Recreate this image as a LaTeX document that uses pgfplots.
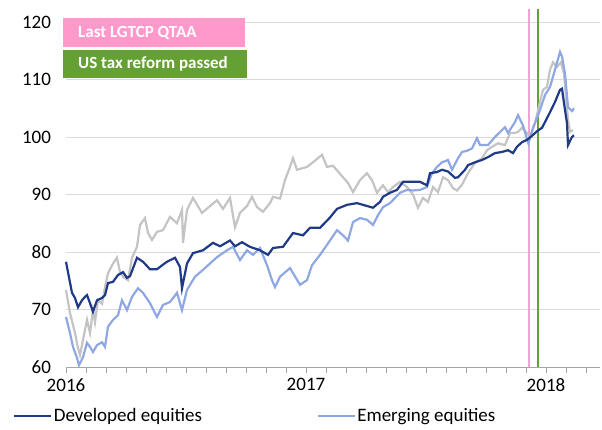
\documentclass[border=0pt]{standalone}
\usepackage{fontspec}
\setmainfont{Carlito}
\usepackage{pgfplots}
\pgfplotsset{compat=1.18}
\definecolor{navy}{HTML}{1F3A86}
\definecolor{lblue}{HTML}{8FA8E4}
\definecolor{lgrey}{HTML}{C4C4C4}
\definecolor{pinkc}{HTML}{FF99CC}
\definecolor{pinkl}{HTML}{F2A2D6}
\definecolor{greenc}{HTML}{64A034}
\definecolor{gridc}{HTML}{DADADA}
\definecolor{axc}{HTML}{A6A6A6}
\begin{document}
\begin{tikzpicture}[x=1pt,y=1pt]
\path[use as bounding box] (-66,-63) rectangle (536,367);
\begin{axis}[
  scale only axis, width=534pt, height=345pt,
  xmin=0, xmax=26.7, ymin=60, ymax=120,
  clip=false,
  axis x line*=bottom, axis y line*=left,
  y axis line style={draw=none},
  x axis line style={color=axc, line width=0.8pt},
  xtick={0,12,24}, xticklabels={2016,2017,2018},
  minor xtick={1,2,3,4,5,6,7,8,9,10,11,13,14,15,16,17,18,19,20,21,22,23,25,26},
  tick align=outside, major tick length=6pt, minor tick length=6pt,
  x tick style={color=axc, line width=0.8pt},
  minor x tick style={color=axc, line width=0.8pt},
  ytick={60,70,80,90,100,110,120},
  y tick style={draw=none},
  ymajorgrids, grid style={color=gridc, line width=0.8pt},
  tick label style={font=\fontsize{19}{22}\selectfont, text=black},
  xticklabel style={yshift=-2pt},
  yticklabel style={xshift=-5.5pt},
  /pgf/number format/assume math mode=true,
  legend columns=2, reverse legend,
  legend style={at={(-0.0993,-0.142)}, anchor=west, draw=none, fill=none,
    font=\fontsize{19}{22}\selectfont, inner sep=0pt,
    nodes={inner xsep=1.5pt},
    /tikz/column 2/.style={column sep=113pt}},
  legend image code/.code={\draw[#1] (0pt,0pt) -- (37pt,0pt);},
]
\addplot[pinkl, line width=1.8pt, forget plot] coordinates {(23.15,60) (23.15,122.3)};
\addplot[greenc, line width=1.8pt, forget plot] coordinates {(23.6,60) (23.6,122.3)};
% grey series (legend entry not shown in reference)
\addplot[lgrey, line width=2.2pt, forget plot] coordinates {
(0.00,73.4) (0.20,69.4) (0.45,65.9) (0.60,63.3) (0.70,62.1) (0.85,64.7) (1.05,68.2) (1.20,65.9)
(1.35,69.9) (1.45,67.8) (1.60,71.6) (1.80,71.0) (1.95,73.9) (2.10,76.3) (2.35,78.0) (2.55,79.0)
(2.70,76.5) (2.85,75.7) (3.10,75.1) (3.30,79.0) (3.55,80.9) (3.70,84.7) (3.95,85.9) (4.10,83.3)
(4.30,82.1) (4.55,83.5) (4.85,83.8) (5.20,86.1) (5.55,85.0) (5.80,87.3) (5.85,81.6) (6.05,87.3)
(6.35,89.4) (6.80,86.8) (7.10,87.7) (7.55,89.0) (7.85,87.5) (8.20,89.4) (8.45,84.3) (8.70,86.8)
(9.05,88.0) (9.30,89.6) (9.55,87.8) (9.85,87.0) (10.20,88.5) (10.35,89.6) (10.70,89.3) (10.95,92.5)
(11.20,94.8) (11.35,96.3) (11.55,94.3) (12.05,94.8) (12.35,95.6) (12.80,96.9) (13.05,94.8) (13.35,95.0)
(13.70,93.6) (14.10,92.0) (14.35,90.4) (14.70,92.5) (15.05,93.7) (15.30,92.5) (15.55,90.3) (15.85,91.6)
(16.10,90.4) (16.35,91.3) (16.70,92.2) (17.05,91.3) (17.35,90.0) (17.60,87.7) (17.85,89.4) (18.10,88.7)
(18.35,91.3) (18.60,90.4) (18.85,93.0) (19.10,92.5) (19.35,91.1) (19.55,90.7) (19.80,91.7) (20.10,93.7)
(20.45,95.5) (20.80,96.3) (21.05,97.7) (21.30,98.3) (21.60,98.9) (21.95,98.6) (22.20,100.7) (22.45,100.7)
(22.60,100.9) (22.80,101.6) (23.05,100.7) (23.20,100.0) (23.45,102.4) (23.70,106.1) (23.85,108.2) (24.05,108.7)
(24.20,111.7) (24.35,113.0) (24.55,112.2) (24.75,113.0) (24.90,111.0) (25.10,103.0) (25.20,100.9) (25.35,101.2)
};
\addplot[lblue, line width=2.2pt] coordinates {
(0.00,68.7) (0.20,65.9) (0.35,63.5) (0.55,61.6) (0.65,60.3) (0.85,61.7) (1.05,64.2) (1.20,63.5)
(1.35,62.6) (1.55,63.8) (1.80,64.3) (1.95,63.5) (2.10,67.0) (2.35,68.2) (2.60,69.0) (2.80,71.6)
(3.05,69.9) (3.30,72.2) (3.60,73.7) (3.85,72.9) (4.20,71.1) (4.55,68.7) (4.85,70.8) (5.20,71.3)
(5.55,72.9) (5.80,69.9) (6.05,73.4) (6.45,75.7) (6.85,76.9) (7.20,78.0) (7.55,79.1) (8.05,80.3)
(8.35,80.9) (8.70,78.6) (9.05,80.3) (9.35,79.5) (9.70,80.7) (10.05,77.7) (10.30,75.1) (10.45,73.9)
(10.70,75.7) (11.20,77.2) (11.70,74.3) (12.05,75.1) (12.30,77.7) (12.70,79.5) (13.20,82.0) (13.55,83.8)
(13.85,82.9) (14.10,82.0) (14.35,85.2) (14.70,85.9) (15.05,85.6) (15.35,84.7) (15.60,86.4) (15.85,87.8)
(16.20,88.5) (16.45,89.4) (16.70,90.3) (17.05,90.8) (17.35,90.7) (17.70,90.8) (18.05,91.3) (18.30,93.7)
(18.55,94.8) (18.80,95.6) (19.10,96.0) (19.30,94.3) (19.60,96.3) (19.80,97.4) (20.05,97.6) (20.30,98.0)
(20.55,99.8) (20.70,98.6) (21.10,98.6) (21.45,100.0) (21.80,101.2) (21.95,101.7) (22.10,100.7) (22.45,102.6)
(22.60,103.8) (22.85,102.0) (23.02,100.0) (23.12,98.9) (23.35,101.6) (23.70,104.7) (23.95,107.3) (24.20,108.7)
(24.45,111.7) (24.70,114.8) (24.80,114.0) (24.95,111.0) (25.10,105.2) (25.30,104.5) (25.40,105.0)
};
\addlegendentry{Emerging equities}
\addplot[navy, line width=2.2pt] coordinates {
(0.00,78.3) (0.10,76.5) (0.30,72.9) (0.45,72.0) (0.60,70.4) (0.80,71.6) (0.95,72.2) (1.05,72.5)
(1.20,71.1) (1.35,69.6) (1.55,71.6) (1.80,72.0) (1.95,72.5) (2.10,74.6) (2.35,74.8) (2.60,76.0)
(2.85,76.5) (3.05,75.5) (3.20,75.8) (3.55,79.0) (3.85,78.3) (4.20,77.0) (4.55,77.0) (4.85,77.8)
(5.05,78.3) (5.45,79.0) (5.70,77.4) (5.80,73.7) (6.05,78.0) (6.35,79.8) (6.85,80.3) (7.35,81.6)
(7.70,81.0) (8.20,82.0) (8.45,81.0) (8.80,81.7) (9.20,80.9) (9.70,80.3) (10.10,79.5) (10.35,80.7)
(10.85,80.9) (11.35,83.3) (11.85,82.9) (12.20,84.2) (12.70,84.2) (13.20,86.0) (13.55,87.5) (14.05,88.2)
(14.55,88.5) (14.85,88.2) (15.35,87.7) (15.70,88.7) (15.85,89.6) (16.20,90.3) (16.55,90.8) (16.85,92.2)
(17.35,92.2) (17.70,92.2) (18.05,91.6) (18.20,93.7) (18.55,93.9) (18.80,94.3) (19.10,94.0) (19.45,92.9)
(19.60,93.0) (19.95,94.3) (20.10,95.1) (20.45,95.6) (20.80,96.0) (21.10,96.5) (21.45,97.2) (21.80,97.4)
(22.10,97.7) (22.35,97.2) (22.55,98.3) (22.80,99.1) (23.05,99.5) (23.30,100.2) (23.55,101.0) (23.80,101.6)
(23.95,102.6) (24.20,104.3) (24.45,106.1) (24.70,108.2) (24.80,108.4) (24.90,105.9) (25.05,102.4) (25.10,98.6)
(25.30,100.0) (25.40,100.3)
};
\addlegendentry{Developed equities}
\end{axis}
\node[fill=pinkc, anchor=north west, minimum width=182pt, minimum height=29pt, inner sep=0pt] at (-3,349) {};
\node[anchor=west, inner sep=0pt, text=white, font=\bfseries\fontsize{17}{20}\selectfont] at (12,334) {Last LGTCP QTAA};
\node[fill=greenc, anchor=north west, minimum width=184pt, minimum height=28pt, inner sep=0pt] at (-3,317) {};
\node[anchor=west, inner sep=0pt, text=white, font=\bfseries\fontsize{17}{20}\selectfont] at (12,303) {US tax reform passed};
\end{tikzpicture}
\end{document}
